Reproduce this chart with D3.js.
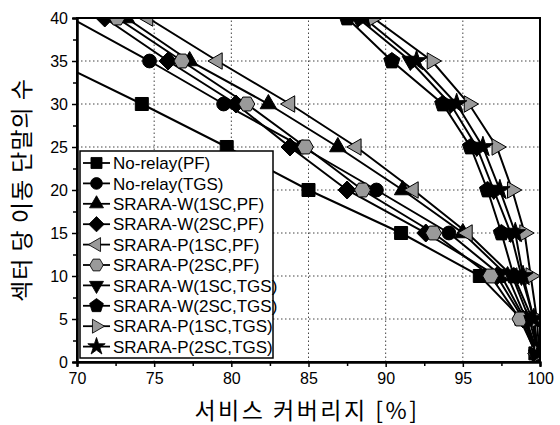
<!DOCTYPE html>
<html>
<head>
    <style>
        body {
            margin: 0;
            background: #fff;
        }
        svg text {
            font-family: Arial, "Liberation Sans", sans-serif;
        }
    </style>
</head>
<body>
    <svg width="560" height="425"></svg>

    <script src="https://d3js.org/d3.v7.min.js"></script>
    <script>
        // y levels shared by every series
        const terminals = [40, 35, 30, 25, 20, 15, 10, 5, 1];

        // service coverage [%] per series
        const noRelayPF    = [63.0, 68.5, 74.2, 79.7, 85.0, 91.0, 96.1, 98.8, 99.7];
        const noRelayTGS   = [69.6, 74.7, 79.5, 84.6, 89.4, 94.1, 97.5, 99.0, 99.8];
        const srWa1scPF    = [73.2, 77.3, 82.4, 86.9, 91.1, 95.0, 97.9, 99.1, 99.85];
        const srWa2scPF    = [71.8, 75.9, 80.3, 83.8, 87.5, 92.6, 97.2, 98.9, 99.8];
        const srPa1scPF    = [74.6, 79.1, 83.8, 88.1, 91.8, 95.3, 98.2, 99.3, 99.9];
        const srPa2scPF    = [72.6, 76.8, 81.0, 84.8, 88.5, 93.1, 96.8, 98.7, 99.75];
        const srWa1scTGS   = [88.2, 91.6, 94.2, 95.9, 97.0, 98.1, 98.8, 99.6, 99.85];
        const srWa2scTGS   = [87.5, 90.4, 93.7, 95.5, 96.6, 97.5, 98.3, 99.5, 99.8];
        const srPa1scTGS   = [89.2, 93.0, 95.4, 97.2, 98.2, 99.0, 99.4, 99.8, 99.95];
        const srPa2scTGS   = [88.6, 92.0, 94.6, 96.3, 97.4, 98.4, 98.9, 99.6, 99.9];

        const seriesNames = [
            "No-relay(PF)", "No-relay(TGS)", "SRARA-W(1SC,PF)", "SRARA-W(2SC,PF)",
            "SRARA-P(1SC,PF)", "SRARA-P(2SC,PF)", "SRARA-W(1SC,TGS)", "SRARA-W(2SC,TGS)",
            "SRARA-P(1SC,TGS)", "SRARA-P(2SC,TGS)"
        ];
        const seriesValues = [noRelayPF, noRelayTGS, srWa1scPF, srWa2scPF, srPa1scPF,
            srPa2scPF, srWa1scTGS, srWa2scTGS, srPa1scTGS, srPa2scTGS];
        const seriesShapes = ["square", "circle", "up", "diamond", "left", "hexagon",
            "down", "pentagon", "right", "star"];
        const seriesGray = [false, false, false, false, true, true, false, false, true, false];

        const xTicks = [70, 75, 80, 85, 90, 95, 100];
        const yTicks = [0, 5, 10, 15, 20, 25, 30, 35, 40];

        const svg = d3.select("svg");
        const margin = {left: 77, right: 20, top: 18, bottom: 63};
        const W = 560, H = 425;

        const x = d3.scaleLinear().domain([70, 100]).range([margin.left, W - margin.right]);
        const y = d3.scaleLinear().domain([0, 40]).range([H - margin.bottom, margin.top]);

        // marker path generator
        function polygon(n, r, rot) {
            const pts = d3.range(n).map(i => {
                const a = rot + i * 2 * Math.PI / n;
                return [r * Math.cos(a), r * Math.sin(a)];
            });
            return "M" + pts.map(p => p.join(",")).join("L") + "Z";
        }
        function markerPath(shape) {
            const up = -Math.PI / 2;
            switch (shape) {
                case "square": return polygon(4, 9.2, Math.PI / 4);
                case "circle": return d3.symbol(d3.symbolCircle, 150)();
                case "up": return polygon(3, 9.5, up);
                case "down": return polygon(3, 9.5, Math.PI / 2);
                case "left": return polygon(3, 9.5, Math.PI);
                case "right": return polygon(3, 9.5, 0);
                case "diamond": return polygon(4, 9, up);
                case "pentagon": return polygon(5, 8.5, up);
                case "hexagon": return polygon(6, 8, 0);
                case "star": return d3.symbol(d3.symbolStar, 130)();
            }
        }

        // clip
        svg.append("clipPath").attr("id", "plot")
            .append("rect")
            .attr("x", margin.left).attr("y", margin.top)
            .attr("width", W - margin.left - margin.right)
            .attr("height", H - margin.top - margin.bottom);

        // grid
        const grid = svg.append("g")
            .attr("stroke", "#444")
            .attr("stroke-width", 1)
            .attr("stroke-dasharray", "1.5,2.5");
        grid.selectAll(".gx").data(xTicks.slice(1, -1)).join("line")
            .attr("x1", d => x(d)).attr("x2", d => x(d))
            .attr("y1", y(0)).attr("y2", y(40));
        grid.selectAll(".gy").data(yTicks.slice(1, -1)).join("line")
            .attr("x1", x(70)).attr("x2", x(100))
            .attr("y1", d => y(d)).attr("y2", d => y(d));

        // series
        const plot = svg.append("g").attr("clip-path", "url(#plot)");
        const line = d3.line().x(d => x(d[0])).y(d => y(d[1]));

        seriesValues.forEach((vals, i) => {
            const pts = vals.map((v, j) => [v, terminals[j]]);
            plot.append("path")
                .attr("d", line(pts))
                .attr("fill", "none")
                .attr("stroke", "#000")
                .attr("stroke-width", 2);
        });
        seriesValues.forEach((vals, i) => {
            const pts = vals.map((v, j) => [v, terminals[j]]);
            plot.append("g").selectAll("path")
                .data(pts)
                .join("path")
                .attr("d", markerPath(seriesShapes[i]))
                .attr("transform", d => `translate(${x(d[0])},${y(d[1])})`)
                .attr("fill", seriesGray[i] ? "#9a9a9a" : "#000")
                .attr("stroke", "#000")
                .attr("stroke-width", 1);
        });

        // axes
        svg.append("g")
            .attr("transform", `translate(0,${y(0)})`)
            .call(d3.axisBottom(x).tickValues(xTicks).tickSize(5).tickPadding(6));
        svg.append("g")
            .attr("transform", `translate(0,${y(0)})`)
            .call(d3.axisBottom(x).tickValues(d3.range(72.5, 100, 5)).tickSize(4).tickFormat(""));
        svg.append("g")
            .attr("transform", `translate(${x(70)},0)`)
            .call(d3.axisLeft(y).tickValues(yTicks).tickSize(5).tickPadding(4));
        svg.append("g")
            .attr("transform", `translate(${x(70)},0)`)
            .call(d3.axisLeft(y).tickValues(d3.range(2.5, 40, 5)).tickSize(4).tickFormat(""));

        svg.selectAll(".domain").attr("stroke", "#000").attr("stroke-width", 2);
        svg.selectAll(".tick line").attr("stroke", "#000").attr("stroke-width", 1.5);
        svg.selectAll(".tick text")
            .attr("font-size", 16)
            .attr("font-family", "Arial, 'Liberation Sans', sans-serif")
            .attr("fill", "#000");

        // frame top/right
        svg.append("rect")
            .attr("x", x(70)).attr("y", y(40))
            .attr("width", x(100) - x(70)).attr("height", y(0) - y(40))
            .attr("fill", "none").attr("stroke", "#000").attr("stroke-width", 2);

        // legend
        const lg = svg.append("g");
        const lgX = 80, lgY = 151, lgW = 193, lgH = 207, rowH = 20.4;
        lg.append("rect")
            .attr("x", lgX).attr("y", lgY)
            .attr("width", lgW).attr("height", lgH)
            .attr("fill", "#fff").attr("stroke", "#000").attr("stroke-width", 1.5);
        seriesNames.forEach((name, i) => {
            const cy = lgY + 12 + i * rowH;
            lg.append("line")
                .attr("x1", lgX + 3).attr("x2", lgX + 30)
                .attr("y1", cy).attr("y2", cy)
                .attr("stroke", "#000").attr("stroke-width", 1.8);
            lg.append("path")
                .attr("d", markerPath(seriesShapes[i]))
                .attr("transform", `translate(${lgX + 16.5},${cy}) scale(0.85)`)
                .attr("fill", seriesGray[i] ? "#9a9a9a" : "#000")
                .attr("stroke", "#000").attr("stroke-width", 1);
            lg.append("text")
                .attr("x", lgX + 33).attr("y", cy)
                .attr("dy", "0.36em")
                .attr("font-size", 17)
                .text(name);
        });

        // axis titles
        svg.append("text")
            .attr("x", 307).attr("y", 419)
            .attr("text-anchor", "middle")
            .attr("font-size", 23)
            .style("font-family", "'Noto Sans CJK KR', sans-serif")
            .attr("letter-spacing", 2.5)
            .text("서비스 커버리지 [%]");
        svg.append("text")
            .attr("transform", `translate(30,${y(20)}) rotate(-90)`)
            .attr("text-anchor", "middle")
            .attr("font-size", 23)
            .style("font-family", "'Noto Sans CJK KR', sans-serif")
            .attr("letter-spacing", 1)
            .text("섹터 당 이동 단말의 수");
    </script>
</body>
</html>
